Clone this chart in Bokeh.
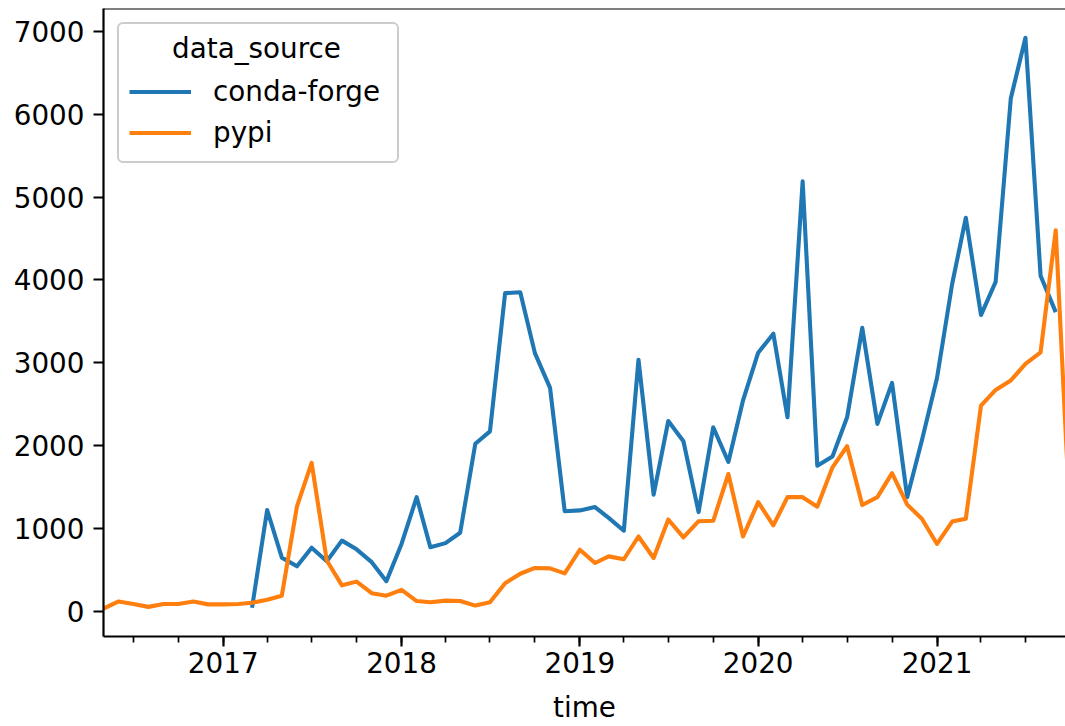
import pandas as pd
from bokeh.plotting import figure
from bokeh.models import (Legend, LegendItem, FixedTicker, DatetimeTickFormatter,
                          Range1d, Span, ColumnDataSource, Label)
from bokeh.embed import file_html
from bokeh.resources import INLINE

NaN = float("nan")

MONTHS = [
    "2016-05", "2016-06", "2016-07", "2016-08", "2016-09", "2016-10", "2016-11", "2016-12",
    "2017-01", "2017-02", "2017-03", "2017-04", "2017-05", "2017-06", "2017-07", "2017-08",
    "2017-09", "2017-10", "2017-11", "2017-12",
    "2018-01", "2018-02", "2018-03", "2018-04", "2018-05", "2018-06", "2018-07", "2018-08",
    "2018-09", "2018-10", "2018-11", "2018-12",
    "2019-01", "2019-02", "2019-03", "2019-04", "2019-05", "2019-06", "2019-07", "2019-08",
    "2019-09", "2019-10", "2019-11", "2019-12",
    "2020-01", "2020-02", "2020-03", "2020-04", "2020-05", "2020-06", "2020-07", "2020-08",
    "2020-09", "2020-10", "2020-11", "2020-12",
    "2021-01", "2021-02", "2021-03", "2021-04", "2021-05", "2021-06", "2021-07", "2021-08",
    "2021-09", "2021-10",
]

CONDA_FORGE = [
    NaN, NaN, NaN, NaN, NaN, NaN, NaN, NaN,
    NaN, NaN, 40, 1220, 645, 540, 765, 600,
    850, 745, 590, 360,
    810, 1375, 770, 820, 945, 2020, 2170, 3840,
    3850, 3115, 2695, 1205,
    1215, 1255, 1125, 970, 3035, 1405, 2295, 2050,
    1195, 2220, 1800, 2545,
    3120, 3350, 2340, 5190, 1755, 1865, 2340, 3420,
    2260, 2755, 1375, 2060,
    2815, 3950, 4750, 3575, 3975, 6190, 6925, 4050,
    3610, NaN,
]

PYPI = [
    30, 115, 85, 50, 85, 85, 115, 80,
    80, 85, 100, 135, 185, 1265, 1790, 610,
    310, 355, 215, 185,
    255, 120, 105, 125, 120, 65, 105, 335,
    450, 520, 515, 455,
    740, 580, 660, 625, 900, 640, 1105, 890,
    1085, 1090, 1655, 900,
    1315, 1035, 1375, 1375, 1260, 1735, 1990, 1280,
    1375, 1665, 1285, 1115,
    810, 1080, 1115, 2480, 2670, 2785, 2985, 3125,
    4600, 1000,
]

SERIES_NAMES = ["conda-forge", "pypi"]
LEGEND_TITLE = "data_source"
X_LABEL = "time"
YEAR_LABELS = ["2017", "2018", "2019", "2020", "2021"]
Y_TICKS = [0, 1000, 2000, 3000, 4000, 5000, 6000, 7000]

FONT = "DejaVu Sans"
FS = "27.8px"
BLUE = "#1f77b4"
ORANGE = "#ff7f0e"


def to_ms(ts):
    return float((pd.Timestamp(ts) - pd.Timestamp("1970-01-01")) // pd.Timedelta("1ms"))


dates = pd.to_datetime(MONTHS, format="%Y-%m")
source = ColumnDataSource(dict(time=dates, conda=CONDA_FORGE, pypi=PYPI))

W, H = 1065, 726
BL, BT, BB = 103, 8, 90
Y_START, Y_END = -308, 7278
p = figure(width=W, height=H, x_axis_type="datetime",
           x_range=Range1d(pd.Timestamp("2016-05-01"), pd.Timestamp("2021-09-21")),
           y_range=Range1d(Y_START, Y_END),
           output_backend="svg", toolbar_location=None,
           min_border_left=BL, min_border_right=0, min_border_top=BT, min_border_bottom=BB)

p.outline_line_color = None
p.grid.visible = False
p.background_fill_color = "white"
p.border_fill_color = "white"

r1 = p.line("time", "conda", source=source, line_color=BLUE, line_width=4.1, line_join="round")
r2 = p.line("time", "pypi", source=source, line_color=ORANGE, line_width=4.1, line_join="round")

# top spine
p.add_layout(Span(location=Y_END, dimension="width", line_color="black", line_width=2.2))

major_x = [to_ms(f"{y}-01-01") for y in YEAR_LABELS]
minor_x = [to_ms(t) for t in pd.date_range("2016-07-01", "2021-07-01", freq="QS")]
p.xaxis.ticker = FixedTicker(ticks=major_x, minor_ticks=minor_x)
p.xaxis.formatter = DatetimeTickFormatter(years="%Y", months="%Y", days="%Y",
                                          hours="%Y", hourmin="%Y")
p.yaxis.ticker = FixedTicker(ticks=Y_TICKS, minor_ticks=[])

for ax in (p.xaxis[0], p.yaxis[0]):
    ax.axis_line_color = "black"
    ax.axis_line_width = 2.2
    ax.major_tick_line_color = "black"
    ax.major_tick_line_width = 2.2
    ax.major_tick_out = 10
    ax.major_tick_in = 0
    ax.minor_tick_line_color = "black"
    ax.minor_tick_line_width = 1.7
    ax.minor_tick_out = 6
    ax.minor_tick_in = 0
    ax.major_label_text_font = FONT
    ax.major_label_text_font_size = FS
    ax.major_label_text_color = "black"

p.xaxis.major_label_standoff = 5
p.yaxis.major_label_standoff = 9
p.xaxis.axis_label = X_LABEL
p.xaxis.axis_label_text_font = FONT
p.xaxis.axis_label_text_font_size = FS
p.xaxis.axis_label_text_font_style = "normal"
p.xaxis.axis_label_text_color = "black"
p.xaxis.axis_label_standoff = 15

legend = Legend(
    items=[LegendItem(label=SERIES_NAMES[0], renderers=[r1]),
           LegendItem(label=SERIES_NAMES[1], renderers=[r2])],
    location="top_left", title=" ",
    title_text_font=FONT, title_text_font_size=FS, title_text_font_style="normal",
    title_text_color="black", title_standoff=6,
    label_text_font=FONT, label_text_font_size=FS, label_text_color="black",
    glyph_width=62, glyph_height=37, label_height=37, label_standoff=22,
    label_width=174, spacing=4, padding=10, margin=14,
    border_line_color="#cccccc", border_line_width=2.2, border_line_alpha=1.0,
    background_fill_color=None,
)
try:
    legend.border_radius = 6
except Exception:
    pass
p.add_layout(legend)

# legend title, centred over the legend box (screen units: from frame bottom-left)
frame_h = H - BT - BB
p.add_layout(Label(x=256 - BL, y=frame_h - (48 - BT), x_units="screen", y_units="screen",
                   text=LEGEND_TITLE, text_font=FONT, text_font_size=FS,
                   text_color="black", text_align="center", text_baseline="middle"))

open("out.html", "w").write(file_html(p, INLINE))
